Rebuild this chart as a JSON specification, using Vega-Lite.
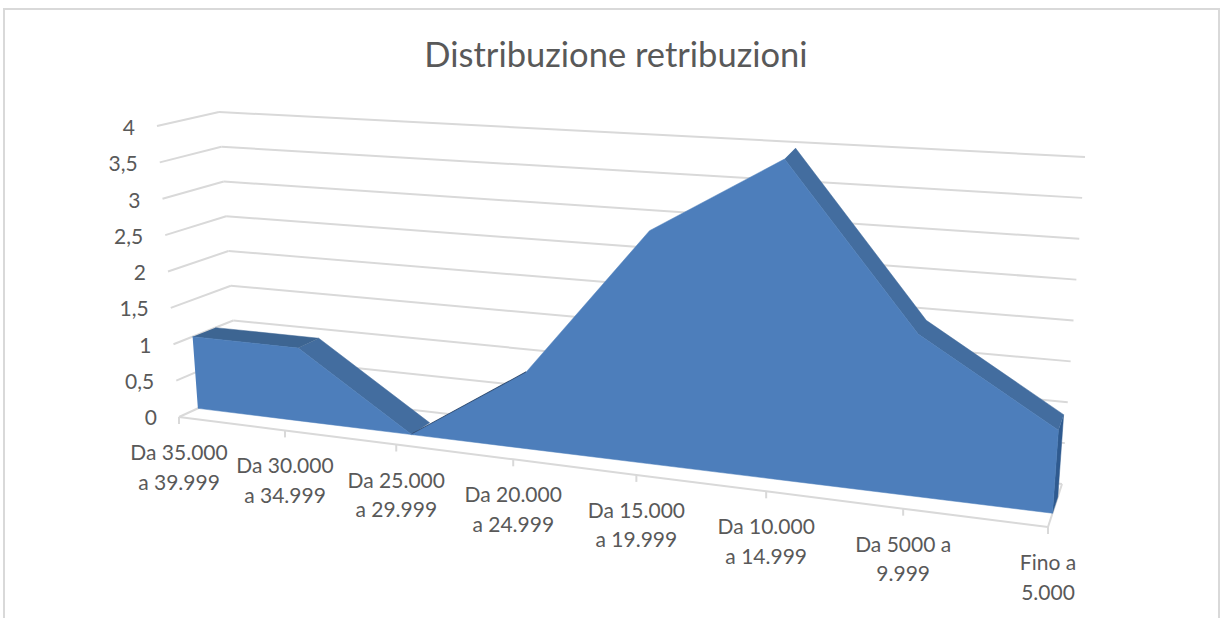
{"$schema":"https://vega.github.io/schema/vega-lite/v6.json","width":1222,"height":618,"autosize":"none","padding":0,"background":"white","config":{"view":{"stroke":null}},
"title":{"text":"Distribuzione retribuzioni","font":"Lato","fontSize":34.5,"fontWeight":"normal","color":"#595959","anchor":"middle","dx":5,"offset":-74},
"datasets":{
"fasce":[{"fascia":"Da 35.000\na 39.999","i":0,"n":1},{"fascia":"Da 30.000\na 34.999","i":1,"n":1},{"fascia":"Da 25.000\na 29.999","i":2,"n":0},{"fascia":"Da 20.000\na 24.999","i":3,"n":1},{"fascia":"Da 15.000\na 19.999","i":4,"n":3},{"fascia":"Da 10.000\na 14.999","i":5,"n":4},{"fascia":"Da 5000 a\n9.999","i":6,"n":2},{"fascia":"Fino a\n5.000","i":7,"n":1}],
"griglia":[{"v":0,"etichetta":"0"},{"v":0.5,"etichetta":"0,5"},{"v":1,"etichetta":"1"},{"v":1.5,"etichetta":"1,5"},{"v":2,"etichetta":"2"},{"v":2.5,"etichetta":"2,5"},{"v":3,"etichetta":"3"},{"v":3.5,"etichetta":"3,5"},{"v":4,"etichetta":"4"}],
"cornice":[{"a":4,"b":1219,"c":9,"d":700}]},
"layer":[
{"data":{"name":"cornice"},"mark":{"type":"rect","fill":null,"stroke":"#d9d9d9","strokeWidth":2},"encoding":{"x":{"field":"a","type":"quantitative","scale":{"domain":[0,1222]},"axis":null},"x2":{"field":"b"},"y":{"field":"c","type":"quantitative","scale":{"domain":[618,0],"clamp":false},"axis":null},"y2":{"field":"d"}}},
{"data":{"name":"griglia"},"transform":[{"calculate":"179-5.5*datum.v","as":"x1"},{"calculate":"417-72.75*datum.v","as":"y1"},{"calculate":"238-4.75*datum.v","as":"x2"},{"calculate":"390-69.5*datum.v","as":"y2"}],"mark":{"type":"rule","color":"#d9d9d9","strokeWidth":2},"encoding":{"x":{"field":"x1","type":"quantitative"},"y":{"field":"y1","type":"quantitative"},"x2":{"field":"x2"},"y2":{"field":"y2"}}},
{"data":{"name":"griglia"},"transform":[{"calculate":"238-4.75*datum.v","as":"x1"},{"calculate":"390-69.5*datum.v","as":"y1"},{"calculate":"1062+5.75*datum.v","as":"x2"},{"calculate":"484-81.75*datum.v","as":"y2"}],"mark":{"type":"rule","color":"#d9d9d9","strokeWidth":2},"encoding":{"x":{"field":"x1","type":"quantitative"},"y":{"field":"y1","type":"quantitative"},"x2":{"field":"x2"},"y2":{"field":"y2"}}},
{"data":{"name":"griglia"},"transform":[{"filter":"datum.v==0"},{"calculate":"1048","as":"x1"},{"calculate":"527","as":"y1"},{"calculate":"1062","as":"x2"},{"calculate":"484","as":"y2"}],"mark":{"type":"rule","color":"#d9d9d9","strokeWidth":2},"encoding":{"x":{"field":"x1","type":"quantitative"},"y":{"field":"y1","type":"quantitative"},"x2":{"field":"x2"},"y2":{"field":"y2"}}},
{"data":{"name":"griglia"},"transform":[{"calculate":"157-5.5*datum.v","as":"xt"},{"calculate":"419-72.75*datum.v+datum.v*0.3","as":"yt"}],"mark":{"type":"text","font":"Lato","fontSize":21,"color":"#595959","align":"right","baseline":"middle"},"encoding":{"x":{"field":"xt","type":"quantitative"},"y":{"field":"yt","type":"quantitative"},"text":{"field":"etichetta"}}},
{"data":{"name":"fasce"},"transform":[{"calculate":"(datum.i/7)/(1.2-0.2*datum.i/7)","as":"u"},{"calculate":"179+869*datum.u","as":"xa"},{"calculate":"417+110*datum.u","as":"ya"}],"mark":{"type":"line","color":"#d9d9d9","strokeWidth":2},"encoding":{"x":{"field":"xa","type":"quantitative"},"y":{"field":"ya","type":"quantitative"},"order":{"field":"i"}}},
{"data":{"name":"fasce"},"transform":[{"calculate":"(datum.i/7)/(1.2-0.2*datum.i/7)","as":"u"},{"calculate":"179+869*datum.u","as":"xa"},{"calculate":"417+110*datum.u","as":"ya"},{"calculate":"datum.ya+7","as":"yb"}],"mark":{"type":"rule","color":"#d9d9d9","strokeWidth":2},"encoding":{"x":{"field":"xa","type":"quantitative"},"y":{"field":"ya","type":"quantitative"},"y2":{"field":"yb"}}},
{"data":{"name":"fasce"},"transform":[{"calculate":"(datum.i/7)/(1.2-0.2*datum.i/7)","as":"u"},{"calculate":"179+869*datum.u","as":"xa"},{"calculate":"417+110*datum.u+26","as":"ya"}],"mark":{"type":"text","font":"Lato","fontSize":21,"color":"#595959","align":"center","baseline":"top","lineBreak":"\n","lineHeight":29.5},"encoding":{"x":{"field":"xa","type":"quantitative"},"y":{"field":"ya","type":"quantitative"},"text":{"field":"fascia"}}},
{"data":{"name":"fasce"},"transform":[{"filter":"datum.i==7"},{"calculate":"[0,1,2,3]","as":"lato"},{"flatten":["lato"]},{"calculate":"(datum.i/7)/(1.2-0.2*datum.i/7)","as":"u"},{"calculate":"datum.lato<2?0.32:0.7","as":"dd"},{"calculate":"(datum.lato==0||datum.lato==3)?datum.n:0","as":"vv"},{"calculate":"(1-datum.dd)*(179+869*datum.u+datum.vv*(-5.5+11.5*datum.u))+datum.dd*(238+824*datum.u+datum.vv*(-4.75+10.5*datum.u))","as":"xp"},{"calculate":"(1-datum.dd)*(417+110*datum.u-datum.vv*(72.75+10.75*datum.u))+datum.dd*(390+94*datum.u-datum.vv*(69.5+12.25*datum.u))","as":"yp"}],"mark":{"type":"line","fill":"#2f5a8f","stroke":"#2f5a8f","strokeWidth":0.5},"encoding":{"x":{"field":"xp","type":"quantitative"},"y":{"field":"yp","type":"quantitative"},"order":{"field":"lato"}}},
{"data":{"name":"fasce"},"transform":[{"filter":"datum.i>=1&&datum.i<=2||datum.i>=5"},{"calculate":"[0,1]","as":"lato"},{"flatten":["lato"]},{"calculate":"(datum.i/7)/(1.2-0.2*datum.i/7)","as":"u"},{"calculate":"datum.lato==0?0.32:0.7","as":"dd"},{"calculate":"datum.n","as":"vv"},{"calculate":"datum.lato==0?datum.i:100-datum.i","as":"ord"},{"calculate":"datum.i<=2?'a':'b'","as":"tratto"},{"calculate":"(1-datum.dd)*(179+869*datum.u+datum.vv*(-5.5+11.5*datum.u))+datum.dd*(238+824*datum.u+datum.vv*(-4.75+10.5*datum.u))","as":"xp"},{"calculate":"(1-datum.dd)*(417+110*datum.u-datum.vv*(72.75+10.75*datum.u))+datum.dd*(390+94*datum.u-datum.vv*(69.5+12.25*datum.u))-0.25*datum.vv*(datum.vv-1)*(datum.vv-3)","as":"yp"}],"mark":{"type":"line","fill":"#436d9f","stroke":"#436d9f","strokeWidth":0.5},"encoding":{"x":{"field":"xp","type":"quantitative"},"y":{"field":"yp","type":"quantitative"},"detail":{"field":"tratto"},"order":{"field":"ord"}}},
{"data":{"name":"fasce"},"transform":[{"filter":"datum.i<=1"},{"calculate":"[0,1]","as":"lato"},{"flatten":["lato"]},{"calculate":"(datum.i/7)/(1.2-0.2*datum.i/7)","as":"u"},{"calculate":"datum.lato==0?0.32:0.7","as":"dd"},{"calculate":"datum.n","as":"vv"},{"calculate":"datum.lato==0?datum.i:100-datum.i","as":"ord"},{"calculate":"(1-datum.dd)*(179+869*datum.u+datum.vv*(-5.5+11.5*datum.u))+datum.dd*(238+824*datum.u+datum.vv*(-4.75+10.5*datum.u))","as":"xp"},{"calculate":"(1-datum.dd)*(417+110*datum.u-datum.vv*(72.75+10.75*datum.u))+datum.dd*(390+94*datum.u-datum.vv*(69.5+12.25*datum.u))","as":"yp"}],"mark":{"type":"line","fill":"#3d6592","stroke":"#3d6592","strokeWidth":0.5},"encoding":{"x":{"field":"xp","type":"quantitative"},"y":{"field":"yp","type":"quantitative"},"order":{"field":"ord"}}},
{"data":{"name":"fasce"},"transform":[{"filter":"datum.i>=2&&datum.i<=3"},{"calculate":"(datum.i/7)/(1.2-0.2*datum.i/7)","as":"u"},{"calculate":"0.34","as":"dd"},{"calculate":"datum.n","as":"vv"},{"calculate":"(1-datum.dd)*(179+869*datum.u+datum.vv*(-5.5+11.5*datum.u))+datum.dd*(238+824*datum.u+datum.vv*(-4.75+10.5*datum.u))","as":"xp"},{"calculate":"(1-datum.dd)*(417+110*datum.u-datum.vv*(72.75+10.75*datum.u))+datum.dd*(390+94*datum.u-datum.vv*(69.5+12.25*datum.u))","as":"yp"}],"mark":{"type":"line","color":"#2a4263","strokeWidth":1.6},"encoding":{"x":{"field":"xp","type":"quantitative"},"y":{"field":"yp","type":"quantitative"},"order":{"field":"i"}}},
{"data":{"name":"fasce"},"transform":[{"calculate":"[0,1]","as":"lato"},{"flatten":["lato"]},{"calculate":"(datum.i/7)/(1.2-0.2*datum.i/7)","as":"u"},{"calculate":"0.32","as":"dd"},{"calculate":"datum.lato==0?datum.n:0","as":"vv"},{"calculate":"datum.lato==0?datum.i:100-datum.i","as":"ord"},{"calculate":"(1-datum.dd)*(179+869*datum.u+datum.vv*(-5.5+11.5*datum.u))+datum.dd*(238+824*datum.u+datum.vv*(-4.75+10.5*datum.u))","as":"xp"},{"calculate":"(1-datum.dd)*(417+110*datum.u-datum.vv*(72.75+10.75*datum.u))+datum.dd*(390+94*datum.u-datum.vv*(69.5+12.25*datum.u))-0.25*datum.vv*(datum.vv-1)*(datum.vv-3)","as":"yp"}],"mark":{"type":"line","fill":"#4d7ebb","stroke":"#4d7ebb","strokeWidth":0.5},"encoding":{"x":{"field":"xp","type":"quantitative"},"y":{"field":"yp","type":"quantitative"},"order":{"field":"ord"}}}
],
"encoding":{"x":{"type":"quantitative","scale":{"domain":[0,1222]},"axis":null,"title":null},"y":{"type":"quantitative","scale":{"domain":[618,0]},"axis":null,"title":null}},
"resolve":{"scale":{"x":"shared","y":"shared"}}
}
